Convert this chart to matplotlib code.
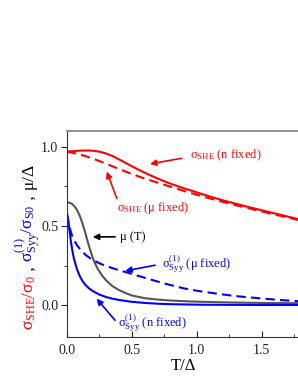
import matplotlib
matplotlib.use('Agg')
import matplotlib.pyplot as plt
from matplotlib.ticker import MultipleLocator

plt.rcParams['font.family'] = ['Liberation Serif', 'DejaVu Serif']
plt.rcParams['mathtext.fontset'] = 'custom'
plt.rcParams['mathtext.rm'] = 'Liberation Serif'
plt.rcParams['mathtext.it'] = 'Liberation Serif:italic'
plt.rcParams['mathtext.bf'] = 'Liberation Serif:bold'

RED = '#ff0000'
BLUE = '#0000ff'
GRAY = '#555555'

# sigma_SHE (n fixed) - red solid
she_n_T = [0, 0.05, 0.1, 0.15, 0.2, 0.25, 0.3, 0.35, 0.4, 0.45, 0.5, 0.55, 0.6, 0.65,
           0.7, 0.75, 0.8, 0.9, 1.0, 1.1, 1.2, 1.3, 1.4, 1.5, 1.6, 1.7, 1.8]
she_n = [0.970, 0.973, 0.976, 0.977, 0.976, 0.970, 0.959, 0.943, 0.922, 0.900, 0.878,
         0.857, 0.837, 0.818, 0.800, 0.783, 0.767, 0.739, 0.713, 0.687, 0.663, 0.641,
         0.620, 0.600, 0.580, 0.560, 0.540]

# sigma_SHE (mu fixed) - red dashed
she_mu_T = [0, 0.05, 0.1, 0.15, 0.2, 0.25, 0.3, 0.35, 0.4, 0.5, 0.6, 0.7, 0.8, 0.9,
            1.0, 1.1, 1.2, 1.3, 1.4, 1.5, 1.6, 1.7, 1.8]
she_mu = [0.970, 0.962, 0.952, 0.940, 0.926, 0.911, 0.895, 0.878, 0.861, 0.829, 0.800,
          0.774, 0.748, 0.722, 0.698, 0.675, 0.653, 0.632, 0.612, 0.592, 0.573, 0.554,
          0.535]

# mu(T) - gray solid
mu_T_T = [0, 0.02, 0.04, 0.06, 0.08, 0.10, 0.12, 0.14, 0.16, 0.18, 0.20, 0.22, 0.24,
          0.27, 0.30, 0.35, 0.40, 0.45, 0.5, 0.6, 0.7, 0.8, 0.9, 1.0, 1.2, 1.4, 1.6, 1.8]
mu_T = [0.650, 0.648, 0.640, 0.625, 0.600, 0.565, 0.520, 0.465, 0.405, 0.350, 0.300,
        0.260, 0.228, 0.190, 0.160, 0.122, 0.097, 0.078, 0.062, 0.045, 0.036, 0.030,
        0.026, 0.023, 0.019, 0.016, 0.014, 0.013]

# sigma_Syy^(1) (n fixed) - blue solid
syy_n_T = [0, 0.01, 0.02, 0.03, 0.04, 0.05, 0.06, 0.08, 0.10, 0.12, 0.14, 0.17, 0.20,
           0.25, 0.30, 0.35, 0.40, 0.5, 0.6, 0.7, 0.8, 1.0, 1.2, 1.5, 1.8]
syy_n = [0.590, 0.545, 0.480, 0.415, 0.360, 0.315, 0.280, 0.225, 0.185, 0.155, 0.132,
         0.108, 0.090, 0.068, 0.053, 0.042, 0.034, 0.022, 0.015, 0.010, 0.007, 0.004,
         0.003, 0.002, 0.002]

# sigma_Syy^(1) (mu fixed) - blue dashed
syy_mu_T = [0, 0.01, 0.02, 0.03, 0.04, 0.06, 0.08, 0.10, 0.12, 0.15, 0.18, 0.22, 0.26,
            0.30, 0.35, 0.40, 0.46, 0.55, 0.64, 0.75, 0.9, 1.0, 1.15, 1.3, 1.5, 1.65, 1.8]
syy_mu = [0.580, 0.540, 0.500, 0.468, 0.442, 0.405, 0.378, 0.357, 0.338, 0.315, 0.297,
          0.278, 0.262, 0.249, 0.235, 0.222, 0.208, 0.186, 0.164, 0.138, 0.107, 0.092,
          0.074, 0.058, 0.043, 0.033, 0.025]

x_ticks = [0.0, 0.5, 1.0, 1.5]
y_ticks = [0.0, 0.5, 1.0]

fig = plt.figure(figsize=(2.98, 3.85), dpi=100)
ax = fig.add_axes([0.224, 0.1247, 0.785, 0.535])

dash = (0, (4.5, 2.5))
ax.plot(she_n_T, she_n, color=RED, lw=1.5)
ax.plot(she_mu_T, she_mu, color=RED, lw=1.5, linestyle=dash)
ax.plot(mu_T_T, mu_T, color=GRAY, lw=1.5)
ax.plot(syy_n_T, syy_n, color=BLUE, lw=1.5)
ax.plot(syy_mu_T, syy_mu, color=BLUE, lw=1.5, linestyle=dash)

ax.set_xlim(0, 1.8)
ax.set_ylim(-0.2, 1.1)
ax.set_xticks(x_ticks)
ax.set_xticklabels(['0.0', '0.5', '1.0', '1.5'])
ax.set_yticks(y_ticks)
ax.set_yticklabels(['0.0', '0.5', '1.0'])
ax.xaxis.set_minor_locator(MultipleLocator(0.25))
ax.yaxis.set_minor_locator(MultipleLocator(0.25))
ax.tick_params(axis='x', which='both', direction='in', labelsize=10, pad=5, colors='#222222')
ax.tick_params(axis='x', which='major', length=4)
ax.tick_params(axis='x', which='minor', length=2.5)
ax.tick_params(axis='y', which='both', direction='out', labelsize=10, pad=2, colors='#222222')
ax.tick_params(axis='y', which='major', length=4)
ax.tick_params(axis='y', which='minor', length=2.5)
ax.spines['left'].set_color('#333333')
ax.spines['bottom'].set_color('#333333')
ax.spines['top'].set_color('#888888')
ax.spines['top'].set_linewidth(1.3)
ax.set_xlabel('T/Δ', fontsize=12, labelpad=1)

# annotations: (text, text pos, arrow tail, arrow tip, color)
labels = [
    (r'$\mathrm{\sigma_{SHE}}$ (n fixed)', (0.95, 0.95), (0.885, 0.928), (0.64, 0.892), RED),
    (r'$\mathrm{\sigma_{SHE}}$ (μ fixed)', (0.385, 0.614), (0.385, 0.675), (0.308, 0.844), RED),
    ('μ (T)', (0.41, 0.432), (0.372, 0.432), (0.20, 0.432), 'black'),
    (r'$\mathrm{\sigma^{(1)}_{Syy}}$ (μ fixed)', (0.73, 0.26), (0.68, 0.253), (0.449, 0.217), BLUE),
    (r'$\mathrm{\sigma^{(1)}_{Syy}}$ (n fixed)', (0.395, -0.116), (0.372, -0.095), (0.23, 0.042), BLUE),
]
for txt, pos, tail, tip, col in labels:
    ax.text(pos[0], pos[1], txt, color=col, fontsize=9, ha='left', va='center')
    ax.annotate('', xy=tip, xytext=tail,
                arrowprops=dict(arrowstyle='-|>', color=col, lw=1.2,
                                mutation_scale=9, shrinkA=0, shrinkB=0))

# multi-coloured rotated y label
pieces = [
    (r'$\mathrm{\sigma_{SHE}/\sigma_{0}}$', RED),
    (' , ', 'black'),
    (r'$\mathrm{\sigma^{(1)}_{Syy}/\sigma_{S0}}$', BLUE),
    (' , ', 'black'),
    (r'$\mathrm{\mu/\Delta}$', 'black'),
]
renderer = fig.canvas.get_renderer()
W, H = fig.get_size_inches() * fig.dpi
x_px = 33.5
y_px = H - 330.0
for s, col in pieces:
    t = fig.text(x_px / W, y_px / H, s, color=col, fontsize=12.5, rotation=90,
                 rotation_mode='anchor', ha='left', va='baseline')
    ext = t.get_window_extent(renderer)
    y_px += ext.height

fig.savefig('out.png', dpi=100)
